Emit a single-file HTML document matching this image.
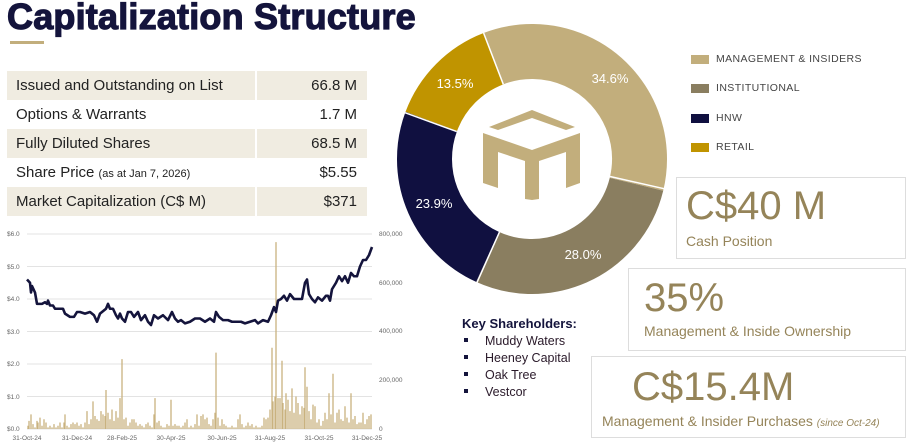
<!DOCTYPE html>
<html><head><meta charset="utf-8"><style>
body{margin:0;width:910px;height:445px;background:#fff;overflow:hidden;font-family:"Liberation Sans",Arial,sans-serif;position:relative}
.a{position:absolute}
.title{left:7px;top:-4px;font-size:36px;font-weight:bold;color:#14143c;letter-spacing:0.2px;white-space:nowrap;-webkit-text-stroke:1.2px #14143c}
.row{position:absolute;left:7px;width:360px;height:29px;font-size:15px;color:#222}
.row.s{background:#f0ece1}
.row .l{position:absolute;left:9px;top:6px}
.row .r{position:absolute;right:10px;top:6px}
.row .d{position:absolute;left:248px;top:0;width:2px;height:29px;background:#fff}
.box{position:absolute;border:1px solid #ddd;background:#fff;color:#958459}
.lg{position:absolute;left:716px;font-size:10.5px;color:#444;letter-spacing:0.4px}
.sq{position:absolute;left:691px;width:18px;height:9px}
</style></head><body>
<div class="a title">Capitalization Structure</div>
<div class="a" style="left:10px;top:41px;width:34px;height:3px;background:#c2ae7c"></div>

<div class="row s" style="top:71px"><span class="l">Issued and Outstanding on List</span><span class="r">66.8 M</span><span class="d"></span></div>
<div class="row" style="top:100px"><span class="l">Options &amp; Warrants</span><span class="r">1.7 M</span></div>
<div class="row s" style="top:129px"><span class="l">Fully Diluted Shares</span><span class="r">68.5 M</span><span class="d"></span></div>
<div class="row" style="top:158px"><span class="l">Share Price <span style="font-size:11px">(as at Jan 7, 2026)</span></span><span class="r">$5.55</span></div>
<div class="row s" style="top:187px"><span class="l">Market Capitalization (C$ M)</span><span class="r">$371</span><span class="d"></span></div>

<svg class="a" style="left:0;top:0" width="910" height="445">
 <g font-family="Liberation Sans, sans-serif" font-size="6.5" fill="#666">
  <g stroke="#e3e3e3" stroke-width="1">
   <line x1="27" x2="372" y1="234" y2="234"/><line x1="27" x2="372" y1="266.5" y2="266.5"/><line x1="27" x2="372" y1="299" y2="299"/><line x1="27" x2="372" y1="331.5" y2="331.5"/><line x1="27" x2="372" y1="364" y2="364"/><line x1="27" x2="372" y1="396.5" y2="396.5"/><line x1="27" x2="372" y1="429" y2="429"/>
  </g>
  <text x="7" y="236">$6.0</text><text x="7" y="269">$5.0</text><text x="7" y="301">$4.0</text><text x="7" y="334">$3.0</text><text x="7" y="366">$2.0</text><text x="7" y="399">$1.0</text><text x="7" y="431">$0.0</text>
  <text x="379" y="236">800,000</text><text x="379" y="285">600,000</text><text x="379" y="333">400,000</text><text x="379" y="382">200,000</text><text x="379" y="431">0</text>
  <g text-anchor="middle"><text x="27" y="440">31-Oct-24</text><text x="77" y="440">31-Dec-24</text><text x="122" y="440">28-Feb-25</text><text x="171" y="440">30-Apr-25</text><text x="222" y="440">30-Jun-25</text><text x="270" y="440">31-Aug-25</text><text x="319" y="440">31-Oct-25</text><text x="367" y="440">31-Dec-25</text></g>
 </g>
 <g transform="translate(0,429) scale(1,-32.5)">
  <path vector-effect="non-scaling-stroke" stroke="#c9b27f" stroke-width="1.3" fill="none" d="M28 0V.1M29 0V.25M31 0V.45M33 0V.15M35 0V.05M37 0V.25M38 0V.2M40 0V.35M42 0V.1M44 0V.3M46 0V.2M48 0V.05M50 0V.1M52 0V.05M54 0V.15M56 0V.05M58 0V.1M60 0V.2M62 0V.05M64 0V.2M65 0V.45M67 0V.1M69 0V.05M71 0V.15M73 0V.2M75 0V.15M77 0V.2M79 0V.1M81 0V.15M83 0V.05M85 0V.2M87 0V.55M89 0V.15M91 0V.3M93 0V.85M95 0V.4M97 0V.3M99 0V.25M101 0V.55M103 0V.45M105 0V.4M106 0V1.2M108 0V.5M110 0V.3M112 0V.6M114 0V.25M116 0V.55M118 0V.35M120 0V.95M122 0V2.15M124 0V.3M126 0V.35M128 0V.1M130 0V.2M132 0V.3M134 0V.3M136 0V.2M138 0V.1M140 0V.15M142 0V.1M144 0V.05M146 0V.15M148 0V.2M150 0V.1M152 0V.05M154 0V.45M155 0V.95M157 0V.2M159 0V.25M161 0V.1M163 0V.05M165 0V.05M167 0V.15M169 0V.1M171 0V.9M173 0V.1M175 0V.15M177 0V.1M179 0V.1M181 0V.05M183 0V.1M185 0V.2M187 0V.3M189 0V.05M191 0V.1M193 0V.05M195 0V.15M197 0V.45M199 0V.1M201 0V.4M203 0V.45M205 0V.3M207 0V.35M209 0V.15M211 0V.1M213 0V.3M215 0V.5M216 0V2.35M218 0V.35M220 0V.1M222 0V.3M224 0V.15M226 0V.1M228 0V.05M230 0V.05M232 0V.1M234 0V.05M236 0V.05M238 0V.3M240 0V.45M242 0V.15M244 0V.05M246 0V.1M248 0V.2M250 0V.1M252 0V.15M254 0V.05M256 0V.1M258 0V.05M260 0V.05M262 0V.1M264 0V.35M266 0V.3M268 0V.35M270 0V.6M272 0V2.5M273 0V.85M275 0V1M276 0V5.75M278 0V.95M280 0V.95M282 0V2.1M283 0V.8M285 0V.6M286 0V1.1M288 0V.9M290 0V.55M292 0V1.25M294 0V.5M296 0V1M298 0V.8M300 0V.45M302 0V.7M304 0V.65M305 0V1.9M307 0V1.3M309 0V.55M311 0V.3M313 0V.75M315 0V.7M317 0V.2M319 0V.3M321 0V.1M323 0V.25M325 0V.5M327 0V.3M329 0V1.1M331 0V.45M333 0V1.7M335 0V.2M337 0V.5M339 0V.6M341 0V.3M343 0V.25M345 0V.7M347 0V.35M349 0V.2M351 0V1.1M353 0V.3M355 0V.4M357 0V.15M359 0V.2M361 0V.2M363 0V.5M365 0V.15M367 0V.3M369 0V.4M371 0V.45"/>
  <polyline vector-effect="non-scaling-stroke" fill="none" stroke="#14143c" stroke-width="2.6" stroke-linejoin="round" points="27,4.6 30,4.5 31,4.2 32,4.4 35,4.2 37,3.85 42,3.85 45,3.9 47,3.85 48,3.95 50,3.8 53,3.8 55,3.7 63,3.7 65,3.55 70,3.45 74,3.45 77,3.6 80,3.6 85,3.55 90,3.6 94,3.5 97,3.3 100,3.55 104,3.65 106,3.7 108,3.85 110,3.7 113,3.7 116,3.5 118,3.4 120,3.55 122,3.4 125,3.3 128,3.6 131,3.6 134,3.45 138,3.6 141,3.35 145,3.5 148,3.3 151,3.2 154,3.5 158,3.4 163,3.5 168,3.35 172,3.6 175,3.4 178,3.3 181,3.35 185,3.25 190,3.3 195,3.4 200,3.4 205,3.3 210,3.4 214,3.3 216,3.6 219,3.45 223,3.35 228,3.35 232,3.3 236,3.3 241,3.3 245,3.25 250,3.3 255,3.35 258,3.25 263,3.35 268,3.3 271,3.5 274,3.75 276,3.6 278,3.95 281,4.0 284,4.1 287,3.95 290,4.15 294,4.0 298,4.0 302,4.0 305,4.5 307,4.6 309,4.15 312,4.0 315,3.9 318,4.05 322,3.95 326,4.1 328,4.1 330,3.95 332,4.3 336,4.5 339,4.7 342,4.55 345,4.7 348,4.5 351,4.8 354,4.7 357,4.7 360,5.0 363,5.2 366,5.2 369,5.35 372,5.6"/>
 </g>

 <g transform="translate(532,159) rotate(-111)" fill="none" stroke-width="55">
  <circle r="107.5" stroke="#c2ae7c" stroke-dasharray="233.7 1000"/>
  <circle r="107.5" stroke="#8a7e60" stroke-dasharray="0 233.7 189.1 1000"/>
  <circle r="107.5" stroke="#101040" stroke-dasharray="0 422.8 161.4 1000"/>
  <circle r="107.5" stroke="#c09400" stroke-dasharray="0 584.2 91.2 1000"/>
 </g>
 <g transform="translate(532,159)" stroke="#fff" stroke-width="1.5">
  <line x1="-28.7" y1="-74.7" x2="-48.4" y2="-126"/>
  <line x1="78" y1="17.5" x2="132" y2="29.7"/>
  <line x1="-32.5" y1="73" x2="-55" y2="123.5"/>
  <line x1="-75.2" y1="-27.4" x2="-127" y2="-46.3"/>
 </g>
 <g fill="#fff" font-size="13" font-family="Liberation Sans, sans-serif" text-anchor="middle">
  <text x="610" y="83">34.6%</text><text x="583" y="259">28.0%</text><text x="434" y="208">23.9%</text><text x="455" y="88">13.5%</text>
 </g>
 <g fill="#c2ae7c">
  <polygon points="489,127 532,110 575,127 566,130 532,118 498,130"/>
  <polygon points="483,133 532,150 580,133 580,183 566,188 566,152 539,161 539,199 532,200 525,199 525,161 498,152 498,188 483,183"/>
 </g>
 <g font-family="Liberation Sans, sans-serif" fill="#14143c">
  <text x="462" y="328" font-size="13" font-weight="bold">Key Shareholders:</text>
  <g font-size="12.5" fill="#2a1a2a"><text x="485" y="345">Muddy Waters</text><text x="485" y="362">Heeney Capital</text><text x="485" y="379">Oak Tree</text><text x="485" y="396">Vestcor</text></g>
  <rect x="464" y="338" width="4" height="4"/><rect x="464" y="355" width="4" height="4"/><rect x="464" y="372" width="4" height="4"/><rect x="464" y="389" width="4" height="4"/>
 </g>
</svg>

<div class="sq" style="top:55px;background:#c2ae7c"></div><div class="lg" style="top:53px">MANAGEMENT &amp; INSIDERS</div>
<div class="sq" style="top:84px;background:#8a7e60"></div><div class="lg" style="top:82px">INSTITUTIONAL</div>
<div class="sq" style="top:114px;background:#101040"></div><div class="lg" style="top:112px">HNW</div>
<div class="sq" style="top:143px;background:#c09400"></div><div class="lg" style="top:141px">RETAIL</div>

<div class="box" style="left:676px;top:177px;width:228px;height:80px">
 <div class="a" style="left:9px;top:6px;font-size:40px">C$40 M</div>
 <div class="a" style="left:9px;top:55px;font-size:14px">Cash Position</div>
</div>
<div class="box" style="left:628px;top:268px;width:276px;height:81px">
 <div class="a" style="left:15px;top:7px;font-size:40px">35%</div>
 <div class="a" style="left:15px;top:54px;font-size:14px">Management &amp; Inside Ownership</div>
</div>
<div class="box" style="left:591px;top:356px;width:313px;height:80px">
 <div class="a" style="left:40px;top:8px;font-size:40px">C$15.4M</div>
 <div class="a" style="left:10px;top:56px;font-size:14px;white-space:nowrap">Management &amp; Insider Purchases <i style="font-size:10px">(since Oct-24)</i></div>
</div>
</body></html>
